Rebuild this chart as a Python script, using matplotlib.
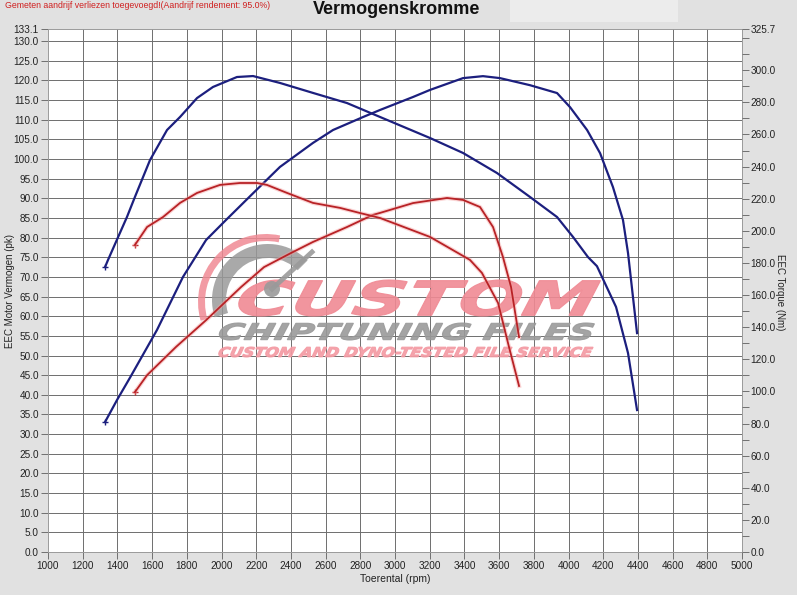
import matplotlib
matplotlib.use('Agg')
import matplotlib.pyplot as plt
from matplotlib.patches import Rectangle, PathPatch, Wedge, Circle
from matplotlib.textpath import TextPath
from matplotlib.font_manager import FontProperties
from matplotlib.transforms import Affine2D
from matplotlib.lines import Line2D

plt.rcParams['font.family'] = ['Liberation Sans', 'DejaVu Sans']

# getuned koppel (Nm), rechter as
rpm_koppel_tuned = [1329, 1346, 1455, 1501, 1588, 1686, 1761, 1859, 1951, 2089, 2182,
                    2337, 2527, 2723, 2914, 3202, 3392, 3588, 3778, 3934, 4026, 4112,
                    4164, 4274, 4343, 4395]
koppel_tuned = [177.5, 181.9, 208.6, 221.1, 244.1, 262.8, 270.9, 282.7, 289.6, 295.8, 296.4,
                292.1, 285.9, 279.6, 270.9, 257.8, 248.5, 236.0, 221.1, 208.6, 196.2, 183.7,
                178.0, 152.6, 123.9, 88.4]

# getuned vermogen (pk), linker as
rpm_vermogen_tuned = [1329, 1398, 1473, 1628, 1778, 1911, 2026, 2182, 2337, 2527, 2643,
                      2816, 2914, 3104, 3202, 3392, 3507, 3605, 3778, 3934, 4009, 4107,
                      4182, 4256, 4314, 4343, 4395]
vermogen_tuned = [33.1, 38.7, 44.4, 56.5, 70.0, 79.4, 84.5, 91.3, 98.0, 104.1, 107.4,
                  110.7, 112.5, 115.8, 117.6, 120.6, 121.1, 120.6, 118.8, 116.8, 113.2, 107.4,
                  101.5, 92.9, 84.5, 76.1, 55.7]

# standaard koppel (Nm)
rpm_koppel_std = [1501, 1571, 1663, 1761, 1859, 1991, 2107, 2205, 2262, 2378, 2527,
                  2683, 2798, 2914, 3202, 3432, 3501, 3594, 3657, 3715]
koppel_std = [191.2, 202.4, 208.6, 217.4, 223.6, 228.6, 229.8, 229.8, 228.6, 223.6, 217.4,
              214.3, 211.1, 208.0, 196.2, 181.9, 173.8, 155.1, 127.7, 103.4]

# standaard vermogen (pk)
rpm_vermogen_std = [1501, 1571, 1738, 1911, 2112, 2245, 2401, 2527, 2723, 2873, 2914,
                    3104, 3300, 3392, 3490, 3565, 3622, 3669, 3715]
vermogen_std = [40.7, 45.0, 52.2, 59.0, 67.4, 72.5, 76.1, 78.9, 82.7, 85.8, 86.3,
                88.8, 90.1, 89.6, 87.8, 82.7, 75.1, 67.4, 54.7]

W, H = 797, 595
bg = '#e1e1e1'
blauw = '#1c1f7e'
rood = '#b82226'
gridkleur = '#6e6e6e'

fig = plt.figure(figsize=(W / 100, H / 100), dpi=100, facecolor=bg)
fig.patches.append(Rectangle((510 / W, 1 - 22 / H), 168 / W, 22 / H,
                             transform=fig.transFigure, fc='#ececec', ec='none'))

ax = fig.add_axes([48 / W, 1 - 552 / H, (742 - 48) / W, (552 - 29) / H])
ax.set_facecolor('white')
ax.set_xlim(1000, 5000)
ax.set_ylim(0, 133.1)

xt = list(range(1000, 5001, 200))
ax.set_xticks(xt)
ax.set_xticklabels([str(v) for v in xt])
yt = [i * 5.0 for i in range(27)] + [133.1]
ax.set_yticks(yt)
ax.set_yticklabels(['%.1f' % v for v in yt])
for v in xt[1:-1]:
    ax.axvline(v, color=gridkleur, lw=0.7, zorder=1)
for v in yt[1:-1]:
    ax.axhline(v, color=gridkleur, lw=0.7, zorder=1)

ax.tick_params(axis='both', labelsize=7.2, length=5, width=0.7, color='#707070',
               labelcolor='#222222', pad=1.5)
for s in ax.spines.values():
    s.set_color('#9a9a9a')
    s.set_linewidth(0.7)

ax.set_xlabel('Toerental (rpm)', fontsize=7.5, color='#222222', labelpad=2)
ax.set_ylabel('EEC Motor Vermogen (pk)', fontsize=7, color='#222222')
ax.yaxis.set_label_coords(-0.047, 0.5)

ax2 = ax.twinx()
ax2.set_ylim(0, 325.7)
rt = [i * 20.0 for i in range(16)] + [325.7]
ax2.set_yticks(rt)
ax2.set_yticklabels(['%.1f' % v for v in rt])
ax2.set_yticks([i * 20.0 + 10 for i in range(16)] + [320.0], minor=True)
ax2.tick_params(axis='y', which='major', labelsize=7.2, length=5, width=0.7,
                color='#707070', labelcolor='#222222', pad=1)
ax2.tick_params(axis='y', which='minor', length=5, width=0.7, color='#707070')
for s in ax2.spines.values():
    s.set_visible(False)
fig.text(780 / W, 1 - 292 / H, 'EEC Torque (Nm)', rotation=-90, ha='center', va='center',
         fontsize=7, color='#222222')

# watermerk
px = Affine2D().scale(1 / W, 1 / H) + fig.transFigure
fp = FontProperties(family='DejaVu Sans', weight='bold', style='italic')


def tekst_in_vak(s, x0, y0, x1, y1, kleur, alpha):
    tp = TextPath((0, 0), s, prop=fp, size=10)
    e = tp.get_extents()
    tr = (Affine2D().translate(-e.x0, -e.y0)
          .scale((x1 - x0) / e.width, (y1 - y0) / e.height)
          .skew_deg(12, 0)
          .translate(x0 - 4, H - y1) + px)
    ax.add_patch(PathPatch(tp, transform=tr, fc=kleur, ec=kleur, lw=0.8, alpha=alpha,
                           zorder=1.5, clip_on=False))


tekst_in_vak('CUSTOM', 240, 280, 597, 316, '#f08a94', 0.9)
tekst_in_vak('CHIPTUNING FILES', 222, 323, 595, 340, '#9a9a9a', 0.9)
tekst_in_vak('CUSTOM AND DYNO-TESTED FILE SERVICE', 222, 347, 595, 357, '#f49aa3', 0.9)
ax.add_patch(Wedge((266, H - 302), 68, 78, 196, width=7, transform=px,
                   fc='#f08a94', ec='none', alpha=0.85, zorder=1.5, clip_on=False))
ax.add_patch(Wedge((268, H - 300), 56, 45, 198, width=14, transform=px,
                   fc='#9a9a9a', ec='none', alpha=0.85, zorder=1.5, clip_on=False))
ax.add_line(Line2D([272, 312], [H - 289, H - 252], transform=px, color='#9a9a9a',
                   lw=3.5, alpha=0.9, zorder=1.5, clip_on=False))
ax.add_patch(Circle((272, H - 289), 8, transform=px, fc='#9a9a9a', ec='none',
                    alpha=0.9, zorder=1.5, clip_on=False))

# curves
ax.plot(rpm_vermogen_tuned, vermogen_tuned, color=blauw, lw=1.6, zorder=3)
ax.plot(rpm_vermogen_std, vermogen_std, color='#f5a0a0', lw=3, alpha=0.45, zorder=2.9)
ax.plot(rpm_vermogen_std, vermogen_std, color=rood, lw=1.3, zorder=3)
ax2.plot(rpm_koppel_tuned, koppel_tuned, color=blauw, lw=1.6, zorder=3)
ax2.plot(rpm_koppel_std, koppel_std, color='#f5a0a0', lw=3, alpha=0.45, zorder=2.9)
ax2.plot(rpm_koppel_std, koppel_std, color=rood, lw=1.3, zorder=3)
ax.plot(rpm_vermogen_tuned[0], vermogen_tuned[0], marker='+', ms=4, color=blauw)
ax.plot(rpm_vermogen_std[0], vermogen_std[0], marker='+', ms=4, color=rood)
ax2.plot(rpm_koppel_tuned[0], koppel_tuned[0], marker='+', ms=4, color=blauw)
ax2.plot(rpm_koppel_std[0], koppel_std[0], marker='+', ms=4, color=rood)

fig.text(397 / W, 1 - 10 / H, 'Vermogenskromme', ha='center', va='center',
         fontsize=13, fontweight='bold', color='#111111')
fig.text(5 / W, 1 - 6 / H, 'Gemeten aandrijf verliezen toegevoegd!(Aandrijf rendement: 95.0%)',
         ha='left', va='center', fontsize=6.3, color='#d02020')

fig.savefig('out.png', dpi=100, facecolor=bg)
